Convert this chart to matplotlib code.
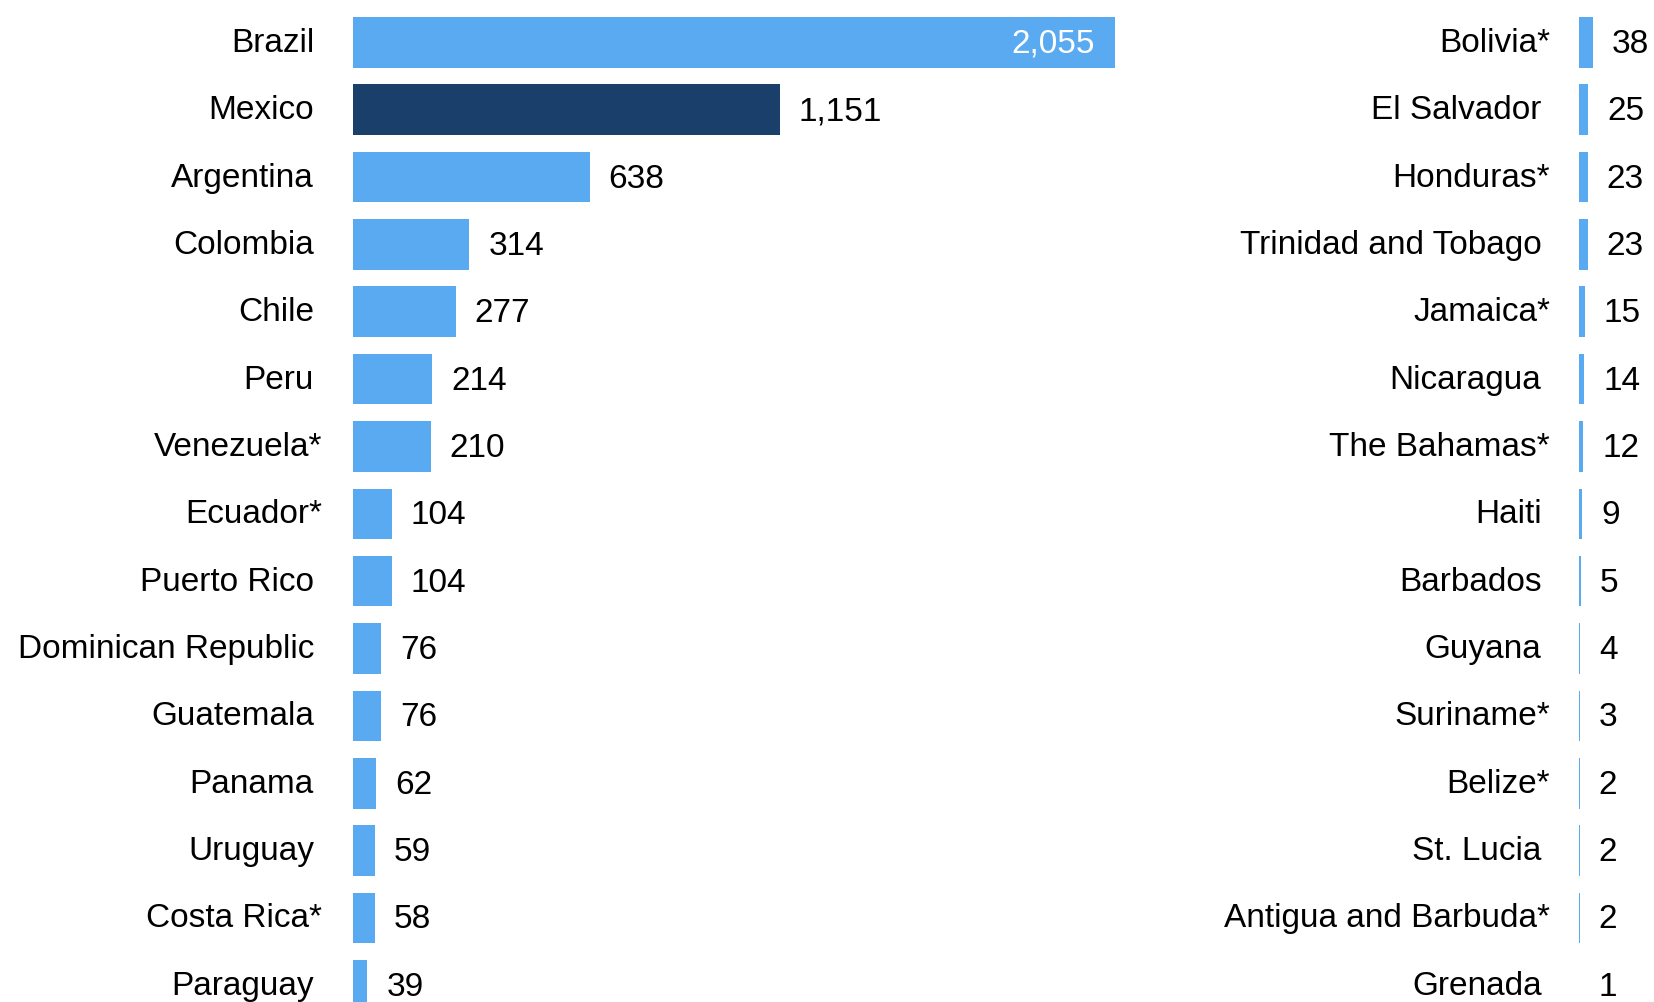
import matplotlib.pyplot as plt

plt.rcParams['font.family'] = ['Liberation Sans', 'DejaVu Sans']

# countries and values, two columns
left_names = ["Brazil", "Mexico", "Argentina", "Colombia", "Chile", "Peru",
              "Venezuela*", "Ecuador*", "Puerto Rico", "Dominican Republic",
              "Guatemala", "Panama", "Uruguay", "Costa Rica*", "Paraguay"]
left_vals = [2055, 1151, 638, 314, 277, 214, 210, 104, 104, 76, 76, 62, 59, 58, 39]

right_names = ["Bolivia*", "El Salvador", "Honduras*", "Trinidad and Tobago",
               "Jamaica*", "Nicaragua", "The Bahamas*", "Haiti", "Barbados",
               "Guyana", "Suriname*", "Belize*", "St. Lucia",
               "Antigua and Barbuda*", "Grenada"]
right_vals = [38, 25, 23, 23, 15, 14, 12, 9, 5, 4, 3, 2, 2, 2, 1]

highlight = "Mexico"

LIGHT = "#5AAAF2"
DARK = "#1B3F6B"
FS = 24

W, H = 1654, 1003
fig = plt.figure(figsize=(W / 100, H / 100), dpi=100)

px_per_unit = 0.3708
row_h = 67.36
top = 43.3 - row_h / 2
n = len(left_names)
ax_h = row_h * n


def panel(x0, xmax, names, vals, name_off, inside_first=False):
    ax = fig.add_axes([x0 / W, 1 - (top + ax_h) / H, xmax * px_per_unit / W, ax_h / H])
    ys = list(range(len(names)))
    colors = [DARK if nm == highlight else LIGHT for nm in names]
    ax.barh(ys, vals, height=0.75, color=colors, edgecolor="none")
    ax.set_xlim(0, xmax)
    ax.set_ylim(len(names) - 0.5, -0.5)
    ax.axis("off")
    for y, nm, v in zip(ys, names, vals):
        # starred names hang a little past the name column
        off = -name_off + (8.5 if nm.endswith("*") else 0)
        ax.annotate(nm, (0, y), xytext=(off, 0), textcoords="offset pixels",
                    ha="right", va="center", fontsize=FS, annotation_clip=False)
        lab = f"{v:,}"
        if inside_first and y == 0:
            ax.annotate(lab, (v, y), xytext=(-20, -1), textcoords="offset pixels",
                        ha="right", va="center", fontsize=FS, color="white")
        else:
            ax.annotate(lab, (v, y), xytext=(19, -1), textcoords="offset pixels",
                        ha="left", va="center", fontsize=FS, annotation_clip=False)
    return ax


panel(353, 2100, left_names, left_vals, 39, inside_first=True)
panel(1579, 100, right_names, right_vals, 37.5)

fig.savefig("out.png", dpi=100)
